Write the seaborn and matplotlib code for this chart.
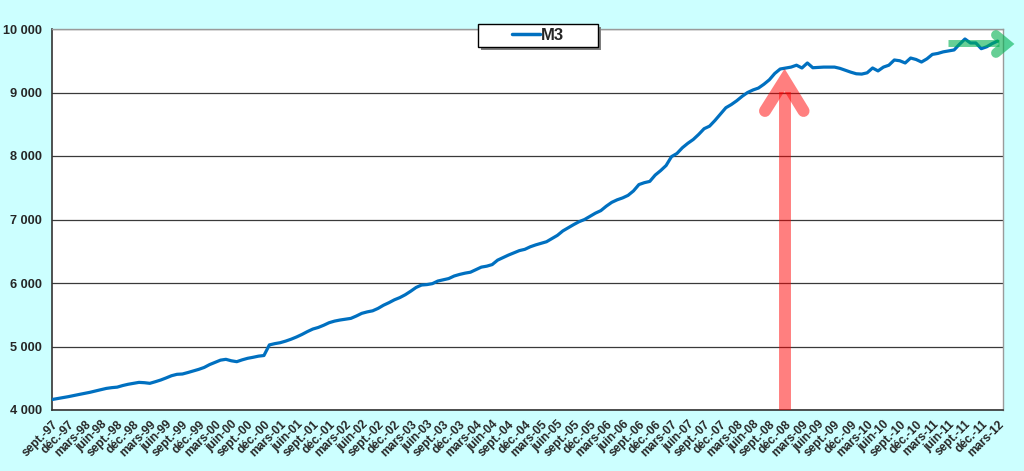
import numpy as np
import pandas as pd
import matplotlib
matplotlib.use("Agg")
import matplotlib.pyplot as plt
from matplotlib.patches import Rectangle
from matplotlib.ticker import FuncFormatter
import seaborn as sns

# ---- data (monthly M3, sept-97 .. mars-12) ----
m3_values = [
    4165, 4180, 4195, 4210, 4228, 4245, 4262, 4279, 4300, 4320,
    4340, 4352, 4360, 4385, 4405, 4420, 4435, 4430, 4420, 4445,
    4472, 4505, 4540, 4562, 4567, 4590, 4615, 4640, 4670, 4715,
    4750, 4785, 4798, 4775, 4761, 4790, 4814, 4830, 4848, 4858,
    5025, 5045, 5060, 5085, 5115, 5150, 5190, 5235, 5275, 5300,
    5335, 5375, 5400, 5417, 5430, 5443, 5480, 5522, 5545, 5562,
    5600, 5650, 5690, 5735, 5770, 5815, 5870, 5930, 5968, 5975,
    5990, 6031, 6050, 6070, 6110, 6135, 6155, 6170, 6210, 6250,
    6265, 6290, 6360, 6400, 6440, 6475, 6510, 6530, 6570, 6600,
    6625, 6650, 6700, 6750, 6820, 6870, 6920, 6966, 7000, 7050,
    7100, 7140, 7210, 7270, 7310, 7340, 7380, 7450, 7550, 7580,
    7600, 7700, 7770, 7850, 7990, 8040, 8130, 8200, 8260, 8340,
    8430, 8470, 8560, 8660, 8760, 8810, 8870, 8940, 9000, 9040,
    9070, 9130, 9200, 9300, 9370, 9385, 9400, 9430, 9386, 9465,
    9390, 9395, 9400, 9400, 9400, 9380, 9350, 9320, 9295, 9290,
    9310, 9386, 9340, 9400, 9430, 9512, 9500, 9465, 9543, 9520,
    9480, 9530, 9600, 9615, 9640, 9655, 9670, 9760, 9843, 9780,
    9780, 9690, 9720, 9770, 9810,
]
month_abbr = ["sept.", "déc.", "mars", "juin"]   # quarterly labels starting sept-97
first_year = 97
y_ticks = [4000, 5000, 6000, 7000, 8000, 9000, 10000]
series_name = "M3"

n_cat = len(m3_values) + 1  # category axis leaves one empty slot at the end

# tick labels every 3 months
tick_pos = list(range(0, len(m3_values), 3))
tick_labels = []
for k, p in enumerate(tick_pos):
    abs_month = 8 + p  # 0-based month (sept = 8)
    yr = (first_year + abs_month // 12) % 100
    tick_labels.append(f"{month_abbr[k % 4]}-{yr:02d}")

df = pd.DataFrame({"idx": np.arange(len(m3_values)), "value": m3_values})

# ---- style ----
sns.set_style("white")
plt.rcParams["font.family"] = ["Liberation Sans", "DejaVu Sans"]
plt.rcParams["font.weight"] = "bold"

fig = plt.figure(figsize=(10.24, 4.71), dpi=100, facecolor="#CCFFFF")
ax = fig.add_axes([52 / 1024, 1 - 410 / 471, 951 / 1024, 381 / 471])
ax.set_facecolor("white")

sns.lineplot(data=df, x="idx", y="value", ax=ax, color="#0070C0",
             linewidth=2.3, label=series_name, legend=False, zorder=3)

ax.set_xlim(0, n_cat - 1)
ax.set_ylim(y_ticks[0], y_ticks[-1])
ax.set_yticks(y_ticks)
ax.yaxis.set_major_formatter(FuncFormatter(lambda v, p: f"{int(v):,}".replace(",", " ")))
ax.set_xticks(tick_pos + [n_cat - 1])
ax.set_xticklabels(tick_labels + [""], rotation=45, ha="right",
                   rotation_mode="anchor", fontsize=8.6, fontweight="bold")
for lab in ax.get_yticklabels():
    lab.set_fontsize(9.2)
    lab.set_fontweight("bold")
ax.tick_params(axis="both", direction="out", length=4, width=1, color="#333333", pad=3)
ax.tick_params(axis="x", pad=2)
ax.set_xlabel("")
ax.set_ylabel("")

ax.grid(axis="y", color="#3a3a3a", linewidth=0.9, zorder=1)
ax.set_axisbelow(True)
for side in ["left", "bottom"]:
    ax.spines[side].set_color("#333333")
    ax.spines[side].set_linewidth(1.2)
for side in ["top", "right"]:
    ax.spines[side].set_color("#9a9a9a")
    ax.spines[side].set_linewidth(1.0)

# ---- red arrow (pointing up to the peak) ----
red = (1.0, 0.0, 0.0, 0.5)
rx = 134.8
ax.plot([rx, rx], [4000, 9013], color=red, linewidth=8.6,
        solid_capstyle="butt", clip_on=False, zorder=4)
ax.plot([131.2, rx, 138.3], [8709, 9197, 8709], color=red, linewidth=8.6,
        solid_capstyle="round", solid_joinstyle="miter", zorder=4, clip_on=False)

# ---- green arrow (pointing right at the end) ----
green = (0.0, 0.69, 0.31, 0.6)
ax.plot([164.9, 174.2], [9780, 9780], color=green, linewidth=5,
        solid_capstyle="butt", clip_on=False, zorder=4)
ax.plot([173.7, 175.7, 173.7], [9906, 9764, 9622], color=green, linewidth=7,
        solid_capstyle="round", solid_joinstyle="miter", clip_on=False, zorder=4)

# ---- legend box with shadow ----
bx0, bx1, by0, by1 = 478, 598, 24, 47
fig.patches.append(Rectangle(((bx0 + 3) / 1024, 1 - (by1 + 3) / 471),
                             (bx1 - bx0) / 1024, (by1 - by0) / 471,
                             transform=fig.transFigure, facecolor="#7f7f7f",
                             edgecolor="none", zorder=3))
fig.patches.append(Rectangle((bx0 / 1024, 1 - by1 / 471),
                             (bx1 - bx0) / 1024, (by1 - by0) / 471,
                             transform=fig.transFigure, facecolor="white",
                             edgecolor="black", linewidth=1.0, zorder=4))
handles, labels = ax.get_legend_handles_labels()
leg = fig.legend(handles, labels, loc="center",
                 bbox_to_anchor=((bx0 + bx1) / 2 / 1024, 1 - (by0 + by1) / 2 / 471),
                 bbox_transform=fig.transFigure, frameon=False,
                 prop={"weight": "bold", "size": 12}, handlelength=1.7,
                 handletextpad=0.05, borderpad=0.0)
leg.set_zorder(5)
for h in leg.get_lines():
    h.set_linewidth(2.5)

fig.savefig("out.png", dpi=100, facecolor=fig.get_facecolor())
